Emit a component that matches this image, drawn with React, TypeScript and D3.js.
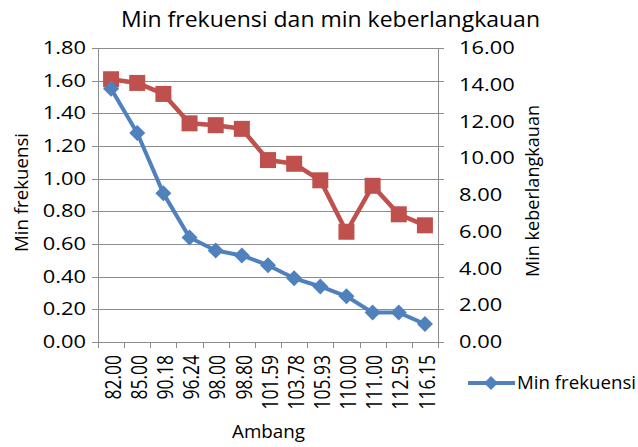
import React from 'react';
import * as d3 from 'd3';

const categories = ['82.00', '85.00', '90.18', '96.24', '98.00', '98.80', '101.59', '103.78', '105.93', '110.00', '111.00', '112.59', '116.15'];
const minFrekuensi = [1.55, 1.28, 0.91, 0.64, 0.56, 0.53, 0.47, 0.39, 0.34, 0.28, 0.18, 0.18, 0.11];
const minKeberlangkauan = [14.3, 14.1, 13.5, 11.9, 11.8, 11.6, 9.9, 9.7, 8.8, 6.0, 8.5, 6.95, 6.35];
const leftTicks = [0, 0.2, 0.4, 0.6, 0.8, 1.0, 1.2, 1.4, 1.6, 1.8];
const rightTicks = [0, 2, 4, 6, 8, 10, 12, 14, 16];

const W = 638;
const H = 447;
const plot = { left: 98, right: 438, top: 48, bottom: 342 };
const BLUE = '#4F81BD';
const RED = '#C0504D';
const GRID = '#8C8C8C';
const FONT = '"Open Sans", sans-serif';
const SX = 1.25; // the numbers in the picture are drawn wide

// tick numbers, centred on their anchor and widened a bit
function Num({ x, y, anchor = 'middle', rotate = 0, children }: any) {
  const tr = `translate(${x},${y}) scale(${SX},1)` + (rotate ? ` rotate(${rotate})` : '');
  return (
    <text transform={tr} textAnchor={anchor} dy="0.35em" fontSize={17.5} fontFamily={FONT} fill="#000">
      {children}
    </text>
  );
}

// words, placed by baseline and fitted to the width they have in the picture
function Word({ x, y, size, len, anchor = 'middle', rotate = 0, children }: any) {
  const tr = `translate(${x},${y})` + (rotate ? ` rotate(${rotate})` : '');
  return (
    <text transform={tr} textAnchor={anchor} fontSize={size} fontFamily={FONT} fill="#000"
      textLength={len} lengthAdjust="spacingAndGlyphs">
      {children}
    </text>
  );
}

function diamond(cx: number, cy: number, r: number) {
  return `M${cx},${cy - r}L${cx + r},${cy}L${cx},${cy + r}L${cx - r},${cy}Z`;
}

export default function App() {
  const x = d3.scaleBand<string>().domain(categories).range([plot.left, plot.right]);
  const yL = d3.scaleLinear().domain([0, 1.8]).range([plot.bottom, plot.top]);
  const yR = d3.scaleLinear().domain([0, 16]).range([plot.bottom, plot.top]);
  const cx = (c: string) => (x(c) as number) + x.bandwidth() / 2;

  const blueLine = d3.line<number>().x((_, i) => cx(categories[i])).y(d => yL(d));
  const redLine = d3.line<number>().x((_, i) => cx(categories[i])).y(d => yR(d));

  const bounds = categories.map(c => x(c) as number).concat([plot.right]);
  const fmt = d3.format('.2f');

  return (
    <svg width={W} height={H} style={{ position: 'absolute', left: 0, top: 0, background: '#fff' }}>
      <rect width={W} height={H} fill="#fff" />
      {/* grid and ticks */}
      {leftTicks.map(t => (
        <line key={'g' + t} x1={plot.left - 6} x2={plot.right + 6} y1={Math.round(yL(t)) + 0.5} y2={Math.round(yL(t)) + 0.5} stroke={GRID} strokeWidth={1} />
      ))}
      <line x1={plot.left + 0.5} x2={plot.left + 0.5} y1={plot.top} y2={plot.bottom} stroke={GRID} />
      <line x1={plot.right + 0.5} x2={plot.right + 0.5} y1={plot.top} y2={plot.bottom} stroke={GRID} />
      {bounds.map((b, i) => (
        <line key={'xt' + i} x1={Math.round(b) + 0.5} x2={Math.round(b) + 0.5} y1={plot.bottom} y2={plot.bottom + 6} stroke={GRID} />
      ))}

      {/* tick labels */}
      {leftTicks.map(t => (
        <Num key={'l' + t} x={86} y={yL(t)} anchor="end">{fmt(t)}</Num>
      ))}
      {rightTicks.map(t => (
        <Num key={'r' + t} x={459} y={yR(t)} anchor="start">{fmt(t)}</Num>
      ))}
      {categories.map(c => (
        <Num key={'c' + c} x={cx(c) + 2} y={355} anchor="end" rotate={-90}>{c}</Num>
      ))}

      {/* series */}
      <path d={redLine(minKeberlangkauan) || ''} fill="none" stroke={RED} strokeWidth={4.5} strokeLinejoin="round" />
      {minKeberlangkauan.map((v, i) => (
        <rect key={'rm' + i} x={cx(categories[i]) - 8} y={yR(v) - 8} width={16} height={16} fill={RED} />
      ))}
      <path d={blueLine(minFrekuensi) || ''} fill="none" stroke={BLUE} strokeWidth={4} strokeLinejoin="round" />
      {minFrekuensi.map((v, i) => (
        <path key={'bm' + i} d={diamond(cx(categories[i]), yL(v), 8)} fill={BLUE} />
      ))}

      {/* titles */}
      <Word x={330.5} y={27} size={21} len={419}>Min frekuensi dan min keberlangkauan</Word>
      <Word x={28} y={192.5} size={18} len={119} rotate={-90}>Min frekuensi</Word>
      <Word x={539} y={191} size={18} len={172} rotate={-90}>Min keberlangkauan</Word>
      <Word x={268.5} y={438} size={18} len={73}>Ambang</Word>

      {/* legend */}
      <line x1={468} x2={515} y1={383} y2={383} stroke={BLUE} strokeWidth={4} />
      <path d={diamond(491, 383, 7)} fill={BLUE} />
      <Word x={517} y={389} size={18} len={119} anchor="start">Min frekuensi</Word>
    </svg>
  );
}
